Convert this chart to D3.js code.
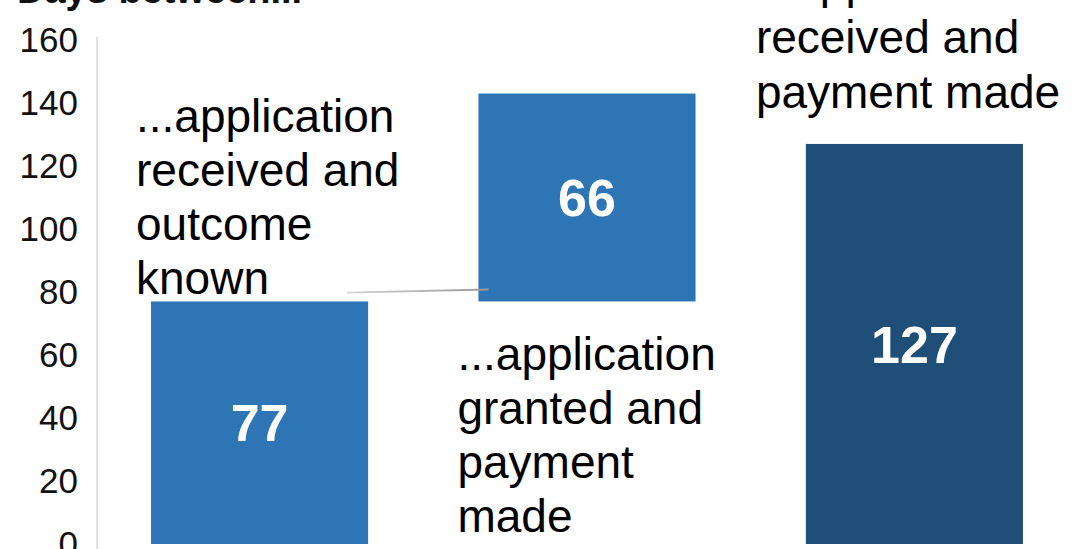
<!DOCTYPE html>
<html>
<head>
<meta charset="utf-8">
<script src="https://cdn.jsdelivr.net/npm/d3@7"></script>
<style>
  html, body { margin: 0; padding: 0; background: #fff; }
</style>
</head>
<body>
<div id="chart"></div>
<script>
// Data
const categories = ["receivedOutcome", "grantedPaid", "receivedPaid"]
const barValues = [77, 66, 127]
const barBases = [0, 77, 0]
const barColors = ["#2e75b6", "#2e75b6", "#1f4e79"]
const annotations = [
    ["...application", "received and", "outcome", "known"],
    ["...application", "granted and", "payment", "made"],
    ["...application", "received and", "payment made"]
]
const yTicks = [0, 20, 40, 60, 80, 100, 120, 140, 160]
const titleText = "Days between..."

const width = 1083
const height = 549

const svg = d3.select("#chart").append("svg")
    .attr("width", width)
    .attr("height", height)
    .style("font-family", "'Liberation Sans', Arial, sans-serif")

// Scales
const x = d3.scaleBand()
    .domain(categories)
    .range([97, 1077])
    .paddingInner(0.337)
    .paddingOuter(0.165)

const y = d3.scaleLinear()
    .domain([0, 160])
    .range([544, 40])

// Title (cut off at the top)
svg.append("text")
    .attr("x", 17)
    .attr("y", 3)
    .attr("font-size", "38px")
    .attr("font-weight", "bold")
    .attr("fill", "#111")
    .text(titleText)

// Y axis
const yAxis = d3.axisLeft(y).tickValues(yTicks).tickSize(0).tickPadding(19)
const gy = svg.append("g")
    .attr("transform", "translate(97,0)")
    .call(yAxis)
gy.select(".domain").attr("stroke", "#d9d9d9").attr("stroke-width", 1.5)
    .attr("d", `M0,37V${height}`)
gy.selectAll(".tick text")
    .attr("font-size", "35px")
    .attr("fill", "#111")
    .attr("font-family", "'Liberation Sans', Arial, sans-serif")

// Bars
const bars = categories.map((c, i) => ({ cat: c, value: barValues[i], base: barBases[i], color: barColors[i] }))

svg.selectAll("rect.bar")
    .data(bars)
    .join("rect")
    .attr("class", "bar")
    .attr("x", d => x(d.cat))
    .attr("y", d => y(d.base + d.value))
    .attr("width", x.bandwidth())
    .attr("height", d => y(d.base) - y(d.base + d.value))
    .attr("fill", d => d.color)

svg.selectAll("text.val")
    .data(bars)
    .join("text")
    .attr("class", "val")
    .attr("x", d => x(d.cat) + x.bandwidth() / 2)
    .attr("y", d => (y(d.base) + y(d.base + d.value)) / 2)
    .attr("dy", "0.36em")
    .attr("text-anchor", "middle")
    .attr("font-size", "52px")
    .attr("font-weight", "bold")
    .attr("fill", "#fff")
    .text(d => d.value)

// Leader line from first annotation to second bar
const defs = svg.append("defs")
const grad = defs.append("linearGradient").attr("id", "lead-grad")
grad.append("stop").attr("offset", "0%").attr("stop-color", "#d4d4d4")
grad.append("stop").attr("offset", "100%").attr("stop-color", "#999")

svg.append("line")
    .attr("x1", x(categories[0]) + x.bandwidth() - 21)
    .attr("y1", y(79.8))
    .attr("x2", x(categories[1]) + 10)
    .attr("y2", y(80.8))
    .attr("stroke", "url(#lead-grad)")
    .attr("stroke-width", 1.8)

// Annotations
const annoPos = [
    { dx: -15, top: 132 },
    { dx: -21, top: 370 },
    { dx: -50, top: -2, gap: 55 }
]
annotations.forEach((lines, i) => {
    const t = svg.append("text")
        .attr("font-size", "46px")
        .attr("fill", "#000")
    t.selectAll("tspan")
        .data(lines)
        .join("tspan")
        .attr("x", x(categories[i]) + annoPos[i].dx)
        .attr("y", (d, j) => annoPos[i].top + j * (annoPos[i].gap || 54))
        .text(d => d)
})
</script>
</body>
</html>
